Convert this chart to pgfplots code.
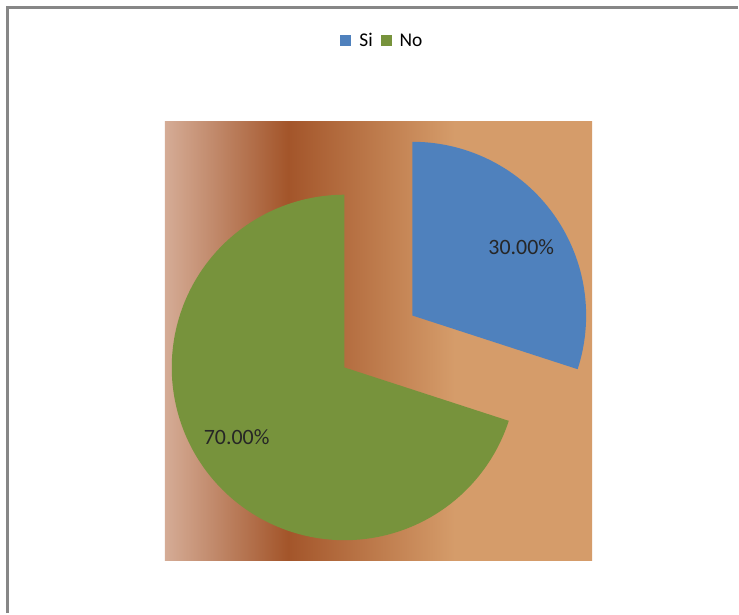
\documentclass[border=0pt]{standalone}
\usepackage{pgfplots}
\pgfplotsset{compat=1.18}
\usepackage{fontspec}
\setmainfont{Carlito}
\definecolor{siblue}{RGB}{79,129,189}
\definecolor{nogreen}{RGB}{119,147,60}
\definecolor{bgA}{RGB}{213,172,150}
\definecolor{bgB}{RGB}{163,85,42}
\definecolor{bgC}{RGB}{213,156,106}
\definecolor{frame}{RGB}{135,135,135}
\pgfdeclarehorizontalshading{bgshade}{100bp}{color(0bp)=(bgA); color(25bp)=(bgA); color(39.4bp)=(bgB); color(58.9bp)=(bgC); color(75bp)=(bgC); color(100bp)=(bgC)}
% data: share of answers (percent)
\def\vSi{30}
\def\vNo{70}
\begin{document}
\begin{tikzpicture}
\pgfmathsetmacro{\aSi}{\vSi*3.6}
\begin{axis}[
  scale only axis, width=739bp, height=614bp,
  xmin=0, xmax=739, ymin=0, ymax=614, y dir=reverse,
  hide axis, clip=false,
  legend columns=2,
  legend style={at={(axis cs:383,41)}, anchor=center, draw=none, fill=none,
    font=\fontsize{19.5}{22}\selectfont, column sep=6bp},
  legend image code/.code={\fill[#1] (0bp,-5.5bp) rectangle (11bp,5.5bp);},
]
\fill[white] (axis cs:0,0) rectangle (axis cs:739,614);
\draw[frame, line width=2.2bp] (axis cs:7.5,614) -- (axis cs:7.5,7.5) -- (axis cs:739,7.5);
\shade[shading=bgshade] (axis cs:165,122) rectangle (axis cs:593,561);
% Si slice (exploded)
\addplot[fill=siblue, draw=none, domain=0:\aSi, samples=90, variable=\t]
  ({413+174*sin(t)}, {316-174*cos(t)}) -- (axis cs:413,316) -- cycle;
\addlegendentry{Si}
% No slice
\addplot[fill=nogreen, draw=none, domain=\aSi:360, samples=180, variable=\t]
  ({345+173*sin(t)}, {368-173*cos(t)}) -- (axis cs:345,368) -- cycle;
\addlegendentry{No}
\node[font=\fontsize{22}{24}\selectfont, text=black!85] at (axis cs:522,247) {30.00\%};
\node[font=\fontsize{22}{24}\selectfont, text=black!85] at (axis cs:237,438) {70.00\%};
\end{axis}
\end{tikzpicture}
\end{document}
